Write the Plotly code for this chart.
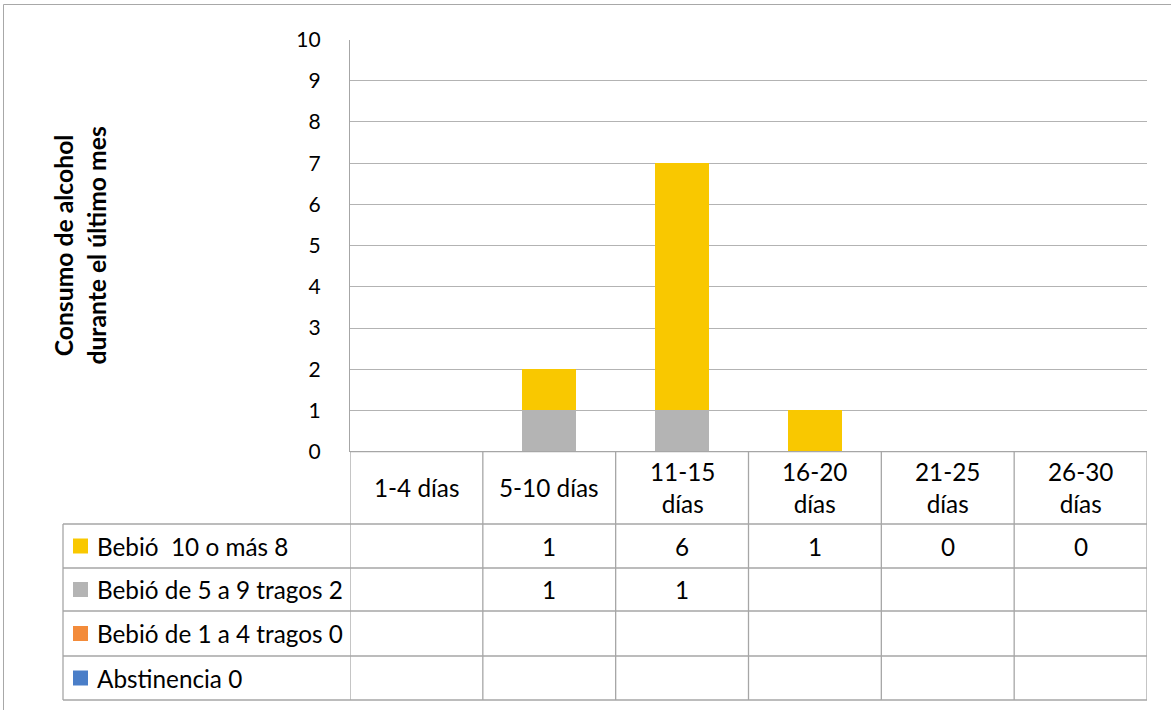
import plotly.graph_objects as go

# Categories (days of consumption in the last month)
categories = ["1-4 días", "5-10 días", "11-15 días", "16-20 días", "21-25 días", "26-30 días"]
header_labels = ["1-4 días", "5-10 días", "11-15<br>días", "16-20<br>días", "21-25<br>días", "26-30<br>días"]

# Series, bottom of the stack first
series_names = ["Abstinencia 0", "Bebió de 1 a 4 tragos 0", "Bebió de 5 a 9 tragos 2", "Bebió  10 o más 8"]
abstinencia = [None, None, None, None, None, None]
tragos_1_4 = [None, None, None, None, None, None]
tragos_5_9 = [None, 1, 1, None, None, None]
tragos_10_mas = [None, 1, 6, 1, 0, 0]
series_values = [abstinencia, tragos_1_4, tragos_5_9, tragos_10_mas]
series_colors = ["#4A7EC8", "#F38B3A", "#B4B4B4", "#F9C800"]

y_ticks = list(range(0, 11))

W, H = 1171, 710
FONT = "Lato"
FS = 24.3
TICK_FS = 21
TITLE_FS = 24.7
LINE = "#A6A6A6"


def px(x):
    return x / W


def py(y):
    return 1 - y / H


# plot area and table geometry (pixels)
plot_left, plot_right = 350, 1147
plot_top, plot_bottom = 39.5, 451.7
table_left = 63
row_edges = [plot_bottom, 524, 568, 611, 656, 700]

fig = go.Figure()
for name, vals, col in zip(series_names, series_values, series_colors):
    fig.add_trace(go.Bar(
        x=categories, y=vals, name=name, marker=dict(color=col, line=dict(width=0)),
        width=0.41, showlegend=False,
    ))

shapes = []
# outer chart frame
shapes.append(dict(type="rect", xref="paper", yref="paper", x0=px(3.5), x1=px(W + 20),
                   y0=py(H + 20), y1=py(4.5), line=dict(color="#A8A8A8", width=1)))
# table horizontal rules
shapes.append(dict(type="line", xref="paper", yref="paper", x0=px(plot_left), x1=px(plot_right),
                   y0=py(plot_bottom), y1=py(plot_bottom), line=dict(color=LINE, width=1.3)))
for yy in row_edges[1:]:
    shapes.append(dict(type="line", xref="paper", yref="paper", x0=px(table_left), x1=px(plot_right),
                       y0=py(yy), y1=py(yy), line=dict(color=LINE, width=1.3)))
# table vertical rules
shapes.append(dict(type="line", xref="paper", yref="paper", x0=px(table_left), x1=px(table_left),
                   y0=py(row_edges[1]), y1=py(row_edges[-1]), line=dict(color=LINE, width=1.3)))
for i in range(len(categories) + 1):
    shapes.append(dict(type="line", xref="x", yref="paper", x0=i - 0.5, x1=i - 0.5,
                       y0=py(plot_bottom), y1=py(row_edges[-1]), line=dict(color=LINE, width=1.3)))

annotations = []
cell_font = dict(family=FONT, size=FS, color="black")
# header row
for i, lab in enumerate(header_labels):
    annotations.append(dict(x=i, y=py((row_edges[0] + row_edges[1]) / 2), xref="x", yref="paper",
                            xanchor="center", yanchor="middle", text=lab, showarrow=False,
                            font=cell_font, align="center"))
# legend rows, top row = last series
for r, idx in enumerate(reversed(range(len(series_names)))):
    yc = (row_edges[r + 1] + row_edges[r + 2]) / 2
    shapes.append(dict(type="rect", xref="paper", yref="paper", x0=px(73), x1=px(88),
                       y0=py(yc + 7.5), y1=py(yc - 7.5), fillcolor=series_colors[idx],
                       line=dict(width=0)))
    annotations.append(dict(x=px(95), y=py(yc), xref="paper", yref="paper", xanchor="left",
                            yanchor="middle", text=series_names[idx], showarrow=False,
                            font=cell_font))
    for i, v in enumerate(series_values[idx]):
        if v is None:
            continue
        annotations.append(dict(x=i, y=py(yc), xref="x", yref="paper", xanchor="center",
                                yanchor="middle", text=str(v), showarrow=False, font=cell_font))

# axis title
annotations.append(dict(x=px(80), y=py((plot_top + plot_bottom) / 2), xref="paper", yref="paper",
                        xanchor="center", yanchor="middle",
                        text="<b>Consumo de alcohol<br>durante el último mes</b>", textangle=-90,
                        showarrow=False, font=dict(family=FONT, size=TITLE_FS, color="black")))

fig.update_layout(
    width=W, height=H,
    margin=dict(l=0, r=0, t=0, b=0, autoexpand=False),
    paper_bgcolor="white", plot_bgcolor="white",
    barmode="stack", bargap=0.59,
    font=dict(family=FONT, size=FS, color="black"),
    shapes=shapes, annotations=annotations,
    xaxis=dict(domain=[px(plot_left), px(plot_right)], range=[-0.5, 5.5], showticklabels=False,
               showgrid=False, zeroline=False, showline=False, fixedrange=True, automargin=False),
    yaxis=dict(domain=[py(plot_bottom), py(plot_top)], range=[0, 10], tickvals=y_ticks,
               showgrid=True, gridcolor="#B3B3B3", gridwidth=1.3, zeroline=False,
               showline=True, linecolor=LINE, linewidth=1.3, ticks="", ticklabelstandoff=24,
               tickfont=dict(family=FONT, size=TICK_FS, color="black"), fixedrange=True,
               automargin=False),
)

fig.write_html("out.html")
